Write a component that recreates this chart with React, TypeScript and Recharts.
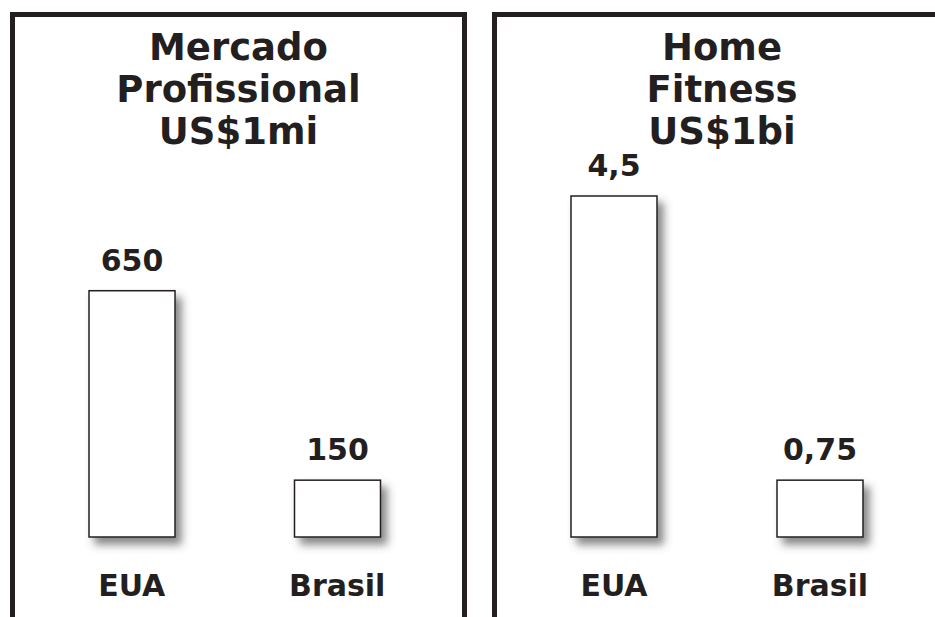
import { BarChart, Bar, XAxis, YAxis, LabelList } from "recharts";

const categories = ["EUA", "Brasil"];

const profTitle = ["Mercado", "Profissional", "US$1mi"];
const profValues = [650, 150];
const profLabels = ["650", "150"];

const homeTitle = ["Home", "Fitness", "US$1bi"];
const homeValues = [4.5, 0.75];
const homeLabels = ["4,5", "0,75"];

const INK = "#231f20";
const FONT = "'DejaVu Sans', Verdana, sans-serif";

function ShadowBar(props: any) {
  const { x, y, width, height } = props;
  return (
    <rect
      x={x}
      y={y}
      width={width}
      height={height}
      fill="#ffffff"
      stroke={INK}
      strokeWidth={1.5}
      filter="url(#barShadow)"
    />
  );
}

function ValueLabel(props: any) {
  const { x, y, width, value } = props;
  return (
    <text
      x={x + width / 2}
      y={y - 20}
      textAnchor="middle"
      fill={INK}
      fontFamily={FONT}
      fontWeight="bold"
      fontSize={30}
    >
      {value}
    </text>
  );
}

function CategoryTick(props: any) {
  const { x, y, payload } = props;
  return (
    <text
      x={x}
      y={y + 59}
      textAnchor="middle"
      fill={INK}
      fontFamily={FONT}
      fontWeight="bold"
      fontSize={30}
    >
      {payload.value}
    </text>
  );
}

function Panel({
  left,
  width,
  title,
}: {
  left: number;
  width: number;
  title: string[];
}) {
  return (
    <div
      style={{
        position: "absolute",
        left,
        top: 12,
        width,
        height: 640,
        boxSizing: "border-box",
        borderTop: `5px solid ${INK}`,
        borderLeft: `5px solid ${INK}`,
        borderRight: `5px solid ${INK}`,
      }}
    >
      <div
        style={{
          position: "absolute",
          left: 0,
          right: 0,
          top: 10,
          textAlign: "center",
          fontFamily: FONT,
          fontWeight: "bold",
          fontSize: 37,
          lineHeight: "42px",
          color: INK,
        }}
      >
        {title.map((t) => (
          <div key={t}>{t}</div>
        ))}
      </div>
    </div>
  );
}

function MarketChart({
  left,
  width,
  marginLeft,
  marginRight,
  values,
  labels,
  max,
}: {
  left: number;
  width: number;
  marginLeft: number;
  marginRight: number;
  values: number[];
  labels: string[];
  max: number;
}) {
  const data = categories.map((c, i) => ({
    name: c,
    value: values[i],
    label: labels[i],
  }));
  return (
    <div style={{ position: "absolute", left, top: 0 }}>
      <BarChart
        width={width}
        height={617}
        data={data}
        margin={{ top: 196, right: marginRight, bottom: 0, left: marginLeft }}
      >
        <XAxis
          dataKey="name"
          axisLine={false}
          tickLine={false}
          tickSize={0}
          tickMargin={0}
          height={80}
          interval={0}
          tick={<CategoryTick />}
        />
        <YAxis hide domain={[0, max]} />
        <Bar
          dataKey="value"
          barSize={86}
          shape={<ShadowBar />}
          isAnimationActive={false}
        >
          <LabelList dataKey="label" content={<ValueLabel />} />
        </Bar>
      </BarChart>
    </div>
  );
}

export default function App() {
  return (
    <div
      style={{
        position: "absolute",
        left: 0,
        top: 0,
        width: 935,
        height: 617,
        overflow: "hidden",
        background: "#ffffff",
      }}
    >
      <svg width={0} height={0} style={{ position: "absolute" }}>
        <defs>
          <filter id="barShadow" x="-20%" y="-20%" width="160%" height="160%">
            <feDropShadow
              dx={6}
              dy={7}
              stdDeviation={4}
              floodColor="#4a4a4a"
              floodOpacity={0.65}
            />
          </filter>
        </defs>
      </svg>

      {/* Mercado profissional */}
      <Panel left={10} width={457} title={profTitle} />
      <MarketChart
        left={0}
        width={470}
        marginLeft={29}
        marginRight={30}
        values={profValues}
        labels={profLabels}
        max={900}
      />

      {/* Home fitness */}
      <Panel left={492} width={460} title={homeTitle} />
      <MarketChart
        left={470}
        width={465}
        marginLeft={41}
        marginRight={12}
        values={homeValues}
        labels={homeLabels}
        max={4.5}
      />
    </div>
  );
}
